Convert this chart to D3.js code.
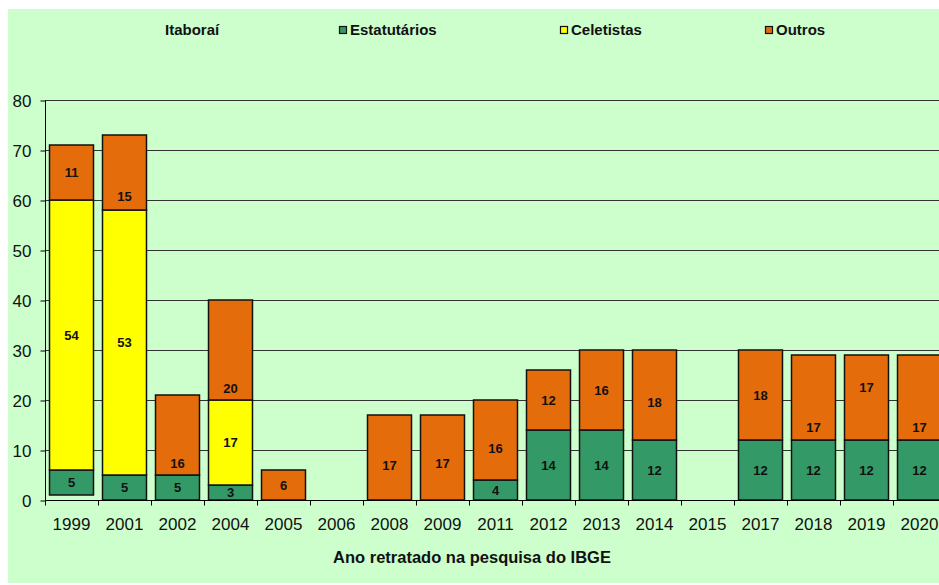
<!DOCTYPE html>
<html><head><meta charset="utf-8">
<script src="https://cdn.jsdelivr.net/npm/d3@7"></script>
<style>html,body{margin:0;padding:0;background:#fff;overflow:hidden}</style>
</head><body>
<svg id="chart" width="939" height="585"></svg>
<script>
const anos = ["1999","2001","2002","2004","2005","2006","2008","2009","2011","2012","2013","2014","2015","2017","2018","2019","2020"];
const itaborai     = [1,0,0,0,0,0,0,0,0,0,0,0,0,0,0,0,0];
const estatutarios = [5,5,5,3,0,0,0,0,4,14,14,12,0,12,12,12,12];
const celetistas   = [54,53,0,17,0,0,0,0,0,0,0,0,0,0,0,0,0];
const outros       = [11,15,16,20,6,0,17,17,16,12,16,18,0,18,17,17,17];
const yTicks = [0,10,20,30,40,50,60,70,80];
const seriesNames = ["Itaboraí","Estatutários","Celetistas","Outros"];
const xTitle = "Ano retratado na pesquisa do IBGE";

// styling (not data)
const colors = {"Itaboraí":"none","Estatutários":"#339966","Celetistas":"#FFFF00","Outros":"#E46C0A"};
const showLabel = {"Itaboraí":false,"Estatutários":true,"Celetistas":true,"Outros":true};
const legendX = {"Itaboraí":165,"Estatutários":350,"Celetistas":571,"Outros":776};
// label nudges (px) mimicking original label placement
const nudge = {"Outros|2001":24,"Outros|2002":28,"Outros|2004":38,"Outros|2008":8,"Outros|2009":6,
  "Outros|2011":8,"Outros|2014":7,"Outros|2018":30,"Outros|2019":-10,"Outros|2020":30};

const svg = d3.select("#chart");
const font = "Arial, 'Liberation Sans', sans-serif";

svg.append("rect").attr("x",8).attr("y",9).attr("width",940).attr("height",574).attr("fill","#CCFFCC");

const x0 = 45, step = 53;
const x = d3.scaleBand().domain(anos).range([x0, x0 + step*anos.length]).paddingInner(0.17).paddingOuter(0.085);
const y = d3.scaleLinear().domain([0,80]).range([500,100]);

// gridlines
svg.append("g").selectAll("line").data(yTicks.filter(d=>d>0)).join("line")
  .attr("x1",x0).attr("x2",x0 + step*anos.length)
  .attr("y1",d=>y(d)+0.5).attr("y2",d=>y(d)+0.5)
  .attr("stroke","#333").attr("stroke-width",1);

const table = anos.map((a,i)=>({ano:a,"Itaboraí":itaborai[i],"Estatutários":estatutarios[i],"Celetistas":celetistas[i],"Outros":outros[i]}));
const stack = d3.stack().keys(seriesNames)(table);

const gBars = svg.append("g");
stack.forEach(layer=>{
  const key = layer.key;
  layer.forEach(seg=>{
    const v = seg[1]-seg[0];
    if (v<=0) return;
    gBars.append("rect")
      .attr("x",x(seg.data.ano)).attr("width",x.bandwidth())
      .attr("y",y(seg[1])).attr("height",y(seg[0])-y(seg[1]))
      .attr("fill",colors[key])
      .attr("stroke",colors[key]==="none"?"none":"#111").attr("stroke-width",1.5);
  });
});
stack.forEach(layer=>{
  const key = layer.key;
  if (!showLabel[key]) return;
  layer.forEach(seg=>{
    const v = seg[1]-seg[0];
    if (v<=0) return;
    const n = nudge[key+"|"+seg.data.ano]||0;
    svg.append("text")
      .attr("x",x(seg.data.ano)+x.bandwidth()/2)
      .attr("y",(y(seg[0])+y(seg[1]))/2 + n)
      .attr("dy","0.36em").attr("text-anchor","middle")
      .attr("font-family",font).attr("font-weight","bold").attr("font-size",13)
      .attr("fill","#111").text(v);
  });
});

// y axis
const yAxis = d3.axisLeft(y).tickValues(yTicks).tickSize(5).tickPadding(9);
const gy = svg.append("g").attr("transform",`translate(${x0+0.5},0.5)`).call(yAxis);
gy.select(".domain").attr("stroke","#000").attr("d",`M0,${y(80)}V${y(0)}`);
gy.selectAll(".tick line").attr("stroke","#000");
gy.selectAll(".tick text").attr("font-family",font).attr("font-size",17).attr("fill","#111").attr("dy","0.34em");

// x axis
const gx = svg.append("g").attr("transform",`translate(0,${y(0)+0.5})`);
gx.append("line").attr("x1",x0).attr("x2",x0+step*anos.length).attr("stroke","#000");
gx.selectAll(".tk").data(anos.concat(["_end"])).join("line")
  .attr("x1",(d,i)=>Math.round(x0 + i*x.step())+0.5).attr("x2",(d,i)=>Math.round(x0 + i*x.step())+0.5)
  .attr("y1",0).attr("y2",5).attr("stroke","#000");
gx.selectAll(".lb").data(anos).join("text")
  .attr("x",d=>x(d)+x.bandwidth()/2).attr("y",29)
  .attr("text-anchor","middle").attr("font-family",font).attr("font-size",17).attr("fill","#111").text(d=>d);

svg.append("text").attr("x",472).attr("y",563).attr("text-anchor","middle")
  .attr("font-family",font).attr("font-weight","bold").attr("font-size",16.5).attr("fill","#111").text(xTitle);

// legend
seriesNames.forEach(k=>{
  const lx = legendX[k];
  if (colors[k]!=="none") {
    svg.append("rect").attr("x",lx-10.5).attr("y",26.5).attr("width",7).attr("height",7)
      .attr("fill",colors[k]).attr("stroke","#111").attr("stroke-width",1.2);
  }
  svg.append("text").attr("x",lx).attr("y",35).attr("font-family",font).attr("font-weight","bold")
    .attr("font-size",15).attr("fill","#111").text(k);
});
</script>
</body></html>
